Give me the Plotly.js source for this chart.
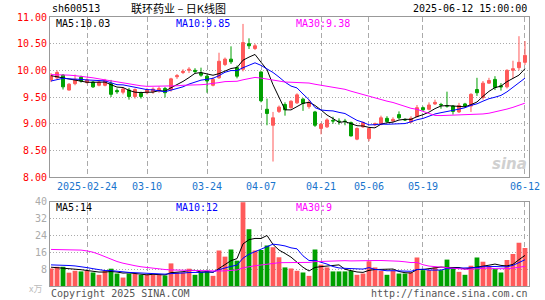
<!DOCTYPE html>
<html><head><meta charset="utf-8">
<script src="https://cdn.plot.ly/plotly-3.0.1.min.js"></script>
<style>html,body{margin:0;padding:0;background:#fff}#chart{width:545px;height:300px}</style>
</head><body><div id="chart"></div>
<script>
const dates = ["2025-02-14","2025-02-17","2025-02-18","2025-02-19","2025-02-20","2025-02-21","2025-02-24","2025-02-25","2025-02-26","2025-02-27","2025-02-28",
"2025-03-03","2025-03-04","2025-03-05","2025-03-06","2025-03-07","2025-03-10","2025-03-11","2025-03-12","2025-03-13","2025-03-14",
"2025-03-17","2025-03-18","2025-03-19","2025-03-20","2025-03-21","2025-03-24","2025-03-25","2025-03-26","2025-03-27","2025-03-28","2025-03-31",
"2025-04-01","2025-04-02","2025-04-03","2025-04-07","2025-04-08","2025-04-09","2025-04-10","2025-04-11","2025-04-14","2025-04-15","2025-04-16","2025-04-17","2025-04-18",
"2025-04-21","2025-04-22","2025-04-23","2025-04-24","2025-04-25","2025-04-28","2025-04-29","2025-04-30",
"2025-05-06","2025-05-07","2025-05-08","2025-05-09","2025-05-12","2025-05-13","2025-05-14","2025-05-15","2025-05-16","2025-05-19","2025-05-20","2025-05-21","2025-05-22","2025-05-23","2025-05-26","2025-05-27","2025-05-28","2025-05-29","2025-05-30",
"2025-06-03","2025-06-04","2025-06-05","2025-06-06","2025-06-09","2025-06-10","2025-06-11","2025-06-12"];

const openP = [9.82,9.86,9.91,9.63,9.75,9.87,9.77,9.78,9.72,9.72,
9.75,9.62,9.59,9.63,9.51,9.57,9.58,9.60,9.62,9.66,
9.64,9.88,9.96,10.00,10.00,9.95,9.89,9.72,9.86,10.11,
10.21,10.05,10.02,10.50,10.41,9.97,9.27,8.97,9.23,9.36,
9.30,9.39,9.46,9.32,9.22,8.91,8.94,9.06,9.05,9.05,
9.02,8.71,8.94,8.72,8.98,8.99,9.10,9.05,9.17,9.08,
9.03,9.13,9.30,9.27,9.37,9.36,9.34,9.33,9.22,9.37,
9.33,9.64,9.49,9.76,9.83,9.71,9.69,10.00,10.05,10.15];
const highP = [9.95,10.00,9.93,9.76,9.92,9.90,9.85,9.80,9.80,9.84,
9.82,9.66,9.68,9.67,9.66,9.60,9.67,9.68,9.70,9.69,
9.86,9.93,10.02,10.06,10.04,10.05,9.92,9.87,10.33,10.24,
10.45,10.09,10.87,10.60,10.50,9.98,9.47,9.22,9.34,9.40,
9.44,9.57,9.48,9.45,9.24,9.01,9.10,9.13,9.10,9.09,
9.04,8.93,9.04,8.92,9.02,9.15,9.14,9.12,9.23,9.10,
9.14,9.35,9.32,9.40,9.45,9.39,9.60,9.35,9.39,9.39,
9.57,9.86,9.80,9.86,9.89,9.76,10.02,10.18,10.64,10.55];
const lowP = [9.78,9.83,9.64,9.62,9.72,9.77,9.75,9.67,9.70,9.70,
9.50,9.56,9.55,9.45,9.47,9.47,9.55,9.56,9.58,9.49,
9.60,9.84,9.93,9.95,9.94,9.88,9.58,9.70,9.84,10.08,
10.12,9.85,9.98,10.40,10.38,9.40,8.97,8.29,9.20,9.15,
9.28,9.37,9.24,9.28,8.94,8.80,8.92,9.00,8.98,8.97,
8.76,8.69,8.92,8.67,8.95,8.97,9.02,9.03,9.08,9.05,
9.01,9.12,9.24,9.25,9.35,9.28,9.30,9.17,9.20,9.30,
9.22,9.52,9.45,9.75,9.63,9.62,9.66,9.85,10.00,10.10];
const closeP = [9.90,9.96,9.69,9.74,9.83,9.80,9.82,9.69,9.78,9.81,
9.55,9.60,9.65,9.51,9.64,9.51,9.64,9.65,9.66,9.58,
9.84,9.90,9.98,10.02,9.98,9.91,9.80,9.83,10.17,10.21,
10.16,9.89,10.52,10.46,10.46,9.43,9.19,9.11,9.31,9.26,
9.42,9.54,9.38,9.40,8.97,8.99,9.07,9.05,9.04,9.04,
8.77,8.91,9.02,8.91,9.00,9.11,9.04,9.08,9.11,9.07,
9.10,9.30,9.26,9.35,9.40,9.35,9.33,9.23,9.34,9.33,
9.55,9.58,9.76,9.81,9.68,9.69,10.00,10.03,10.15,10.28];
const volume = [8.3,9.1,9.1,6.3,7.2,6.9,7.2,6.4,5.3,7.2,
8.2,5.9,4.0,5.9,5.9,5.3,5.3,5.3,5.3,5.0,
10.7,6.4,6.4,8.2,5.3,6.7,7.2,4.8,16.8,13.9,
17.3,12.0,39.6,26.9,16.8,17.1,19.2,18.4,13.6,8.8,
8.3,7.2,6.4,4.8,17.3,10.1,8.8,6.9,6.9,6.9,
7.2,5.3,5.9,11.7,8.8,7.2,5.3,7.2,5.9,5.9,
6.4,13.5,7.5,7.5,8.8,7.5,12.5,8.3,6.7,5.3,
9.6,13.5,11.5,9.3,8.0,6.4,12.3,15.2,20.5,18.0];

// moving-average values before a full window exists
const ma5Head = [9.90,9.88,9.86,9.83];
const ma10Head = [9.80,9.83,9.85,9.84,9.84,9.83,9.82,9.81,9.80];
const ma30Head = [9.92,9.92,9.91,9.91,9.90,9.89,9.88,9.86,9.84,9.82,9.80,9.78,9.76,9.74,9.72,9.71,9.70,9.70,9.70,9.70,9.71,9.71,9.72,9.72,9.73,9.73,9.74,9.75,9.77];
const vma5Head = [8.9,8.7,8.5,8.2];
const vma10Head = [10.0,10.0,9.9,9.7,9.5,9.2,8.7,8.2,7.8];
const vma30Head = [17.3,17.3,17.3,17.2,17.1,17.0,16.6,16.0,15.0,13.8,12.6,11.6,10.8,10.1,9.6,9.1,8.7,8.3,8.0,7.8,7.6,7.5,7.4,7.3,7.3,7.2,7.2,7.1,7.1];

const tickDates = ["2025-02-24","2025-03-10","2025-03-24","2025-04-07","2025-04-21","2025-05-06","2025-05-19","2025-06-12"];
const tickText = ["2025-02-24","03-10","03-24","04-07","04-21","05-06","05-19","06-12"];
const priceTicks = [8,8.5,9,9.5,10,10.5,11];
const volTicks = [8,16,24,32,40];

function ma(vals, n, head){
  return vals.map((v,i)=> i < n-1 ? head[i] : vals.slice(i-n+1,i+1).reduce((a,b)=>a+b,0)/n);
}
const idx = dates.map((d,i)=>i);
const RED = '#ff5a5a', GREEN = '#00a000';
const barColors = closeP.map((c,i)=> c >= openP[i] ? RED : GREEN);
const tickIdx = tickDates.map(d=>dates.indexOf(d));

const W=545,H=300,L=50,R=529,T=17,B=286;
const px = x => (x-L)/(R-L);
const py = y => (B-y)/(B-T);
const mono = 'DejaVu Sans Mono';

const m5 = ma(closeP,5,ma5Head), m10 = ma(closeP,10,ma10Head), m30 = ma(closeP,30,ma30Head);
const v5 = ma(volume,5,vma5Head), v10 = ma(volume,10,vma10Head), v30 = ma(volume,30,vma30Head);

const traces = [
  {type:'candlestick', x:idx, open:openP, high:highP, low:lowP, close:closeP, xaxis:'x', yaxis:'y',
   increasing:{line:{color:RED,width:1}, fillcolor:RED}, decreasing:{line:{color:GREEN,width:1}, fillcolor:GREEN},
   whiskerwidth:0, hoverinfo:'skip'},
  {type:'scatter', mode:'lines', x:idx, y:m5, line:{color:'#000',width:1}, xaxis:'x', yaxis:'y', hoverinfo:'skip'},
  {type:'scatter', mode:'lines', x:idx, y:m10, line:{color:'#0000ff',width:1}, xaxis:'x', yaxis:'y', hoverinfo:'skip'},
  {type:'scatter', mode:'lines', x:idx, y:m30, line:{color:'#ff00ff',width:1}, xaxis:'x', yaxis:'y', hoverinfo:'skip'},
  {type:'bar', x:idx, y:volume, marker:{color:barColors, line:{width:0}}, width:0.8, xaxis:'x2', yaxis:'y2', hoverinfo:'skip'},
  {type:'scatter', mode:'lines', x:idx, y:v5, line:{color:'#000',width:1}, xaxis:'x2', yaxis:'y2', hoverinfo:'skip'},
  {type:'scatter', mode:'lines', x:idx, y:v10, line:{color:'#0000ff',width:1}, xaxis:'x2', yaxis:'y2', hoverinfo:'skip'},
  {type:'scatter', mode:'lines', x:idx, y:v30, line:{color:'#ff00ff',width:1}, xaxis:'x2', yaxis:'y2', hoverinfo:'skip'}
];

const axisCommon = {showline:true, linecolor:'#999', linewidth:1, mirror:true, zeroline:false, fixedrange:true, ticks:''};
const lastMA = a => a[a.length-1];

function ann(text, x, y, color, anchor, size, family){
  return {text:text, x:px(x), y:py(y), xref:'paper', yref:'paper', xanchor:anchor||'left', yanchor:'middle',
    showarrow:false, font:{family:family||mono, size:size||10, color:color}};
}

const layout = {
  width:W, height:H, margin:{l:L, r:W-R, t:T, b:H-B}, showlegend:false,
  paper_bgcolor:'#fff', plot_bgcolor:'#fff',
  xaxis: Object.assign({}, axisCommon, {domain:[0,1], anchor:'y', range:[-0.17,79.67], rangeslider:{visible:false},
    tickmode:'array', tickvals:tickIdx, ticktext:tickText,
    tickfont:{family:mono, size:10, color:'#1874cd'}, showgrid:true, gridcolor:'#aaa', griddash:'5px,3px', gridwidth:1}),
  xaxis2: Object.assign({}, axisCommon, {domain:[0,1], anchor:'y2', matches:'x', tickmode:'array', tickvals:tickIdx, showticklabels:false,
    showgrid:true, gridcolor:'#aaa', griddash:'5px,3px', gridwidth:1}),
  yaxis: Object.assign({}, axisCommon, {domain:[py(177),1], range:[8,11], tickmode:'array', tickvals:priceTicks, ticktext:priceTicks.map(v=>v.toFixed(2)),
    tickfont:{family:mono, size:10, color:'#ff0000'}, showgrid:true, gridcolor:'#aaa', griddash:'1px,2px'}),
  yaxis2: Object.assign({}, axisCommon, {domain:[0,py(201.5)], range:[0,40], tickmode:'array', tickvals:volTicks, ticktext:volTicks.map(String),
    tickfont:{family:mono, size:10, color:'#aaa'}, showgrid:true, gridcolor:'#aaa', griddash:'1px,2px'}),
  annotations:[
    ann('sh600513', 50, 9, '#000', 'left', 10),
    ann('联环药业 – 日K线图', 178, 8.5, '#000', 'center', 11, 'Noto Sans CJK SC'),
    ann('2025-06-12 15:00:00', 529, 9, '#000', 'right', 10),
    ann('MA5:'+lastMA(m5).toFixed(2), 54, 24, '#000', 'left', 10),
    ann('MA10:'+lastMA(m10).toFixed(2), 174, 24, '#0000ff', 'left', 10),
    ann('MA30:'+lastMA(m30).toFixed(2), 294, 24, '#ff00ff', 'left', 10),
    ann('MA5:'+Math.round(lastMA(v5)), 54, 207, '#000', 'left', 10),
    ann('MA10:'+Math.round(lastMA(v10)), 174, 207, '#0000ff', 'left', 10),
    ann('MA30:'+Math.round(lastMA(v30)), 294, 207, '#ff00ff', 'left', 10),
    ann('Copyright 2025 SINA.COM', 49, 293, '#555', 'left', 10),
    ann('http://finance.sina.com.cn', 530, 293, '#555', 'right', 10),
    ann('x万', 27, 288, '#bbb', 'left', 9, 'Noto Sans CJK SC'),
    ann('<i><b>sina</b></i>', 529, 164, '#d0d0d0', 'right', 15, 'DejaVu Sans')
  ]
};
Plotly.newPlot('chart', traces, layout, {displayModeBar:false, staticPlot:true});
</script></body></html>
